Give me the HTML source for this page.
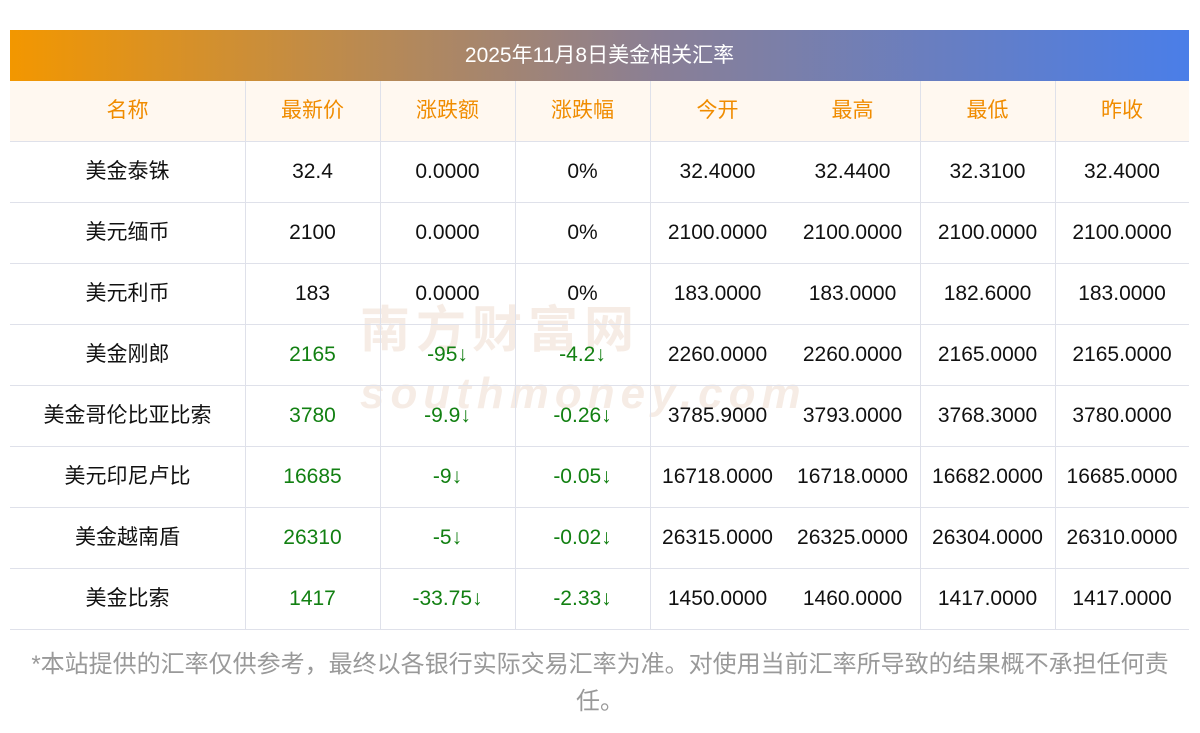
<!DOCTYPE html>
<html><head><meta charset="utf-8"><style>
body{margin:0;width:1200px;height:733px;background:#fff;font-family:"Liberation Sans","Noto Sans CJK SC",sans-serif;position:relative;overflow:hidden}
.title{position:absolute;left:10px;top:30px;width:1179px;height:51px;background:linear-gradient(90deg,#f39700,#8a7f95 55%,#4a7ee8);color:#fff;font-size:21px;line-height:51px;text-align:center}
.hdr{position:absolute;left:10px;top:81px;width:1179px;height:61px;background:#fff8f0}
.row{position:absolute;left:10px;width:1179px;height:61px;border-bottom:1px solid #dfe1ea;box-sizing:border-box}
.c{position:absolute;top:0;height:60px;line-height:60px;text-align:center;font-size:21px;color:#111}
.h .c{color:#f08c00}
.g{color:#128012!important}
.v{position:absolute;top:81px;height:549px;width:1px;background:#dfe1ea}
.foot{position:absolute;left:0px;width:1200px;top:646px;font-size:24px;line-height:37px;color:#999;text-align:center;white-space:nowrap}
.wm{position:absolute;left:360px;top:290px;font-size:50px;color:rgba(230,200,180,0.35);font-weight:bold;letter-spacing:6px}
</style></head><body>
<div class="title">2025年11月8日美金相关汇率</div>
<div class="hdr"></div>
<div class="wm">南方财富网<br><span style="font-size:44px;font-style:italic">southmoney.com</span></div>
<div id="t"></div>
<div class="v" style="left:245px"></div><div class="v" style="left:380px"></div><div class="v" style="left:515px"></div><div class="v" style="left:650px"></div><div class="v" style="left:920px"></div><div class="v" style="left:1055px"></div>
<div class="foot">*本站提供的汇率仅供参考，最终以各银行实际交易汇率为准。对使用当前汇率所导致的结果概不承担任何责<br>任。</div>
<script>
var L=[0,235,370,505,640,775,910,1045,1179];
var rows=[["名称","最新价","涨跌额","涨跌幅","今开","最高","最低","昨收",0,"h"],
["美金泰铢","32.4","0.0000","0%","32.4000","32.4400","32.3100","32.4000",0],
["美元缅币","2100","0.0000","0%","2100.0000","2100.0000","2100.0000","2100.0000",0],
["美元利币","183","0.0000","0%","183.0000","183.0000","182.6000","183.0000",0],
["美金刚郎","2165","-95↓","-4.2↓","2260.0000","2260.0000","2165.0000","2165.0000",1],
["美金哥伦比亚比索","3780","-9.9↓","-0.26↓","3785.9000","3793.0000","3768.3000","3780.0000",1],
["美元印尼卢比","16685","-9↓","-0.05↓","16718.0000","16718.0000","16682.0000","16685.0000",1],
["美金越南盾","26310","-5↓","-0.02↓","26315.0000","26325.0000","26304.0000","26310.0000",1],
["美金比索","1417","-33.75↓","-2.33↓","1450.0000","1460.0000","1417.0000","1417.0000",1]];
var h="";
rows.forEach(function(r,i){h+='<div class="row'+(r[9]?' h':'')+'" style="top:'+(81+61*i)+'px">';
for(var j=0;j<8;j++){h+='<div class="c'+(r[8]&&j>0&&j<4?' g':'')+'" style="left:'+L[j]+'px;width:'+(L[j+1]-L[j])+'px">'+r[j]+'</div>';}
h+='</div>';});
document.getElementById("t").innerHTML=h;
</script>
</body></html>
